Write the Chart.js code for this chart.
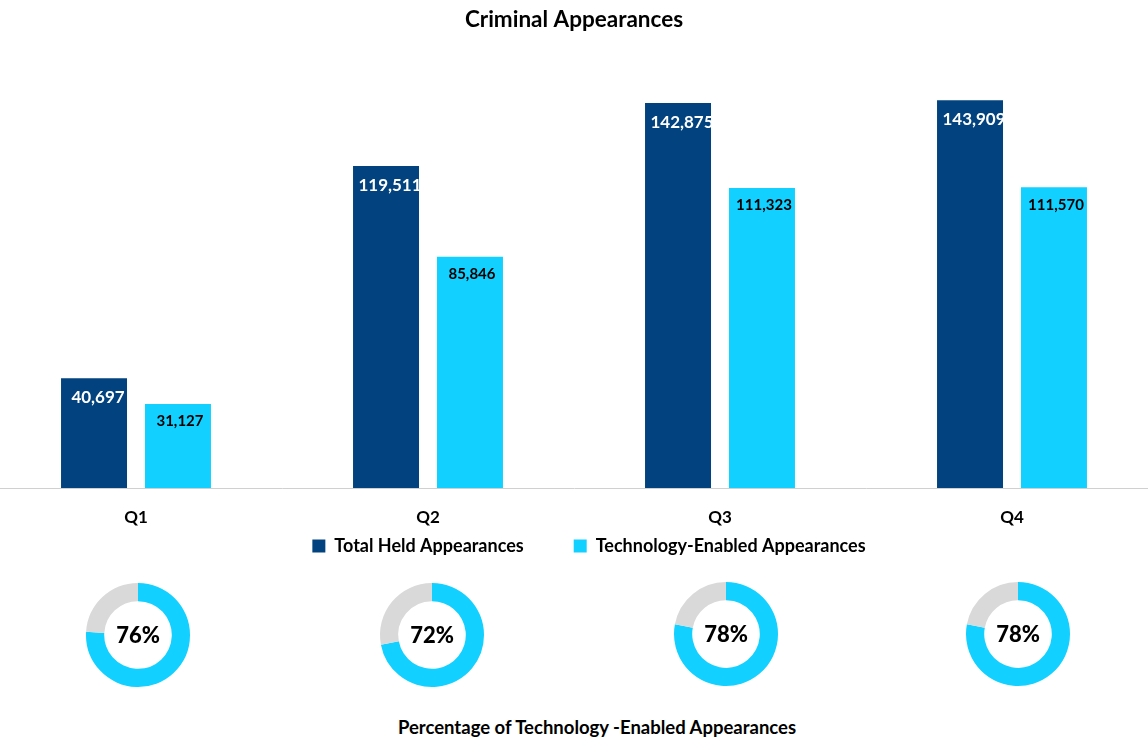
<!DOCTYPE html>
<html>
<head>
<meta charset="utf-8">
<script src="https://cdn.jsdelivr.net/npm/chart.js@4.4.1/dist/chart.umd.min.js"></script>
<style>
  html, body { margin: 0; padding: 0; background: #fff; overflow: hidden; }
  body { width: 1148px; height: 739px; position: relative; font-family: Lato, "Open Sans", sans-serif; }
  #barWrap { position: absolute; left: -10px; top: 0; width: 1168px; height: 604px; }
  .ring { position: absolute; width: 120px; height: 120px; }
  #caption { position: absolute; left: 0; width: 1194px; top: 716px; text-align: center;
             font: bold 18.5px Lato, sans-serif; color: #000; }
</style>
</head>
<body>
<div id="barWrap"><canvas id="bars"></canvas></div>
<div class="ring" id="ringWrap0"><canvas id="ring0"></canvas></div>
<div class="ring" id="ringWrap1"><canvas id="ring1"></canvas></div>
<div class="ring" id="ringWrap2"><canvas id="ring2"></canvas></div>
<div class="ring" id="ringWrap3"><canvas id="ring3"></canvas></div>
<div id="caption">Percentage of Technology -Enabled Appearances</div>

<script>
const quarters = ['Q1', 'Q2', 'Q3', 'Q4'];
const totalHeld = [40697, 119511, 142875, 143909];
const techEnabled = [31127, 85846, 111323, 111570];
const techPercent = [76, 72, 78, 78];

const NAVY = '#02427f';
const CYAN = '#12d0ff';
const GREY = '#d9d9d9';
const FONT = 'Lato, "Open Sans", sans-serif';

// value labels sit inside the top of each bar; the white ones are cut off at the bar edge
const barValueLabels = {
    id: 'barValueLabels',
    afterDatasetsDraw(chart) {
        const ctx = chart.ctx;
        chart.data.datasets.forEach(function(ds, di) {
            const meta = chart.getDatasetMeta(di);
            meta.data.forEach(function(bar, i) {
                const text = ds.data[i].toLocaleString('en-US');
                const left = bar.x - bar.width / 2;
                ctx.save();
                ctx.beginPath();
                ctx.rect(left, bar.y, bar.width, bar.base - bar.y);
                ctx.clip();
                ctx.textAlign = 'center';
                ctx.textBaseline = 'middle';
                if (di === 0) {
                    ctx.fillStyle = '#ffffff';
                    ctx.font = 'bold 17px ' + FONT;
                    ctx.fillText(text, bar.x + 4, bar.y + 19.5);
                } else {
                    ctx.fillStyle = '#000000';
                    ctx.font = 'bold 15px ' + FONT;
                    ctx.fillText(text, bar.x + 2, bar.y + 17.5);
                }
                ctx.restore();
            });
        });
    }
};

// the wide label padding gives the gap between legend items but also pushes
// the row down, so pull the legend back up closer to the quarter labels
const legendNudge = {
    id: 'legendNudge',
    afterLayout(chart) {
        const lg = chart.legend;
        if (!lg) return;
        lg.top -= 39;
        lg.bottom -= 39;
        lg.left += 15;
        lg.right += 15;
    }
};

new Chart(document.getElementById('bars'), {
    type: 'bar',
    data: {
        labels: quarters,
        datasets: [{
            label: 'Total Held Appearances',
            data: totalHeld,
            backgroundColor: NAVY,
            barPercentage: 0.786,
            categoryPercentage: 0.575
        }, {
            label: 'Technology-Enabled Appearances',
            data: techEnabled,
            backgroundColor: CYAN,
            barPercentage: 0.786,
            categoryPercentage: 0.575
        }]
    },
    options: {
        responsive: true,
        maintainAspectRatio: false,
        animation: false,
        layout: { padding: 0 },
        scales: {
            x: {
                grid: { display: false, drawTicks: false },
                border: { display: true, color: '#d0d0d0', width: 1 },
                ticks: { color: '#000', padding: 19, font: { family: FONT, size: 17, weight: 'bold' } },
                afterFit: function(scale) { scale.height = 38; }
            },
            y: {
                display: false,
                min: 0,
                max: 160000
            }
        },
        plugins: {
            title: {
                display: true,
                text: 'Criminal Appearances',
                color: '#000',
                font: { family: FONT, size: 22.5, weight: 'bold' },
                padding: { top: 6.5, bottom: 23.3 }
            },
            legend: {
                position: 'bottom',
                labels: {
                    boxWidth: 13,
                    boxHeight: 13,
                    color: '#000',
                    padding: 50,
                    font: { family: FONT, size: 18, weight: 'bold' }
                }
            },
            tooltip: { enabled: false }
        }
    },
    plugins: [barValueLabels, legendNudge]
});

// percentage written in the hole of each ring
const ringCenterText = {
    id: 'ringCenterText',
    afterDraw(chart) {
        const ctx = chart.ctx;
        const area = chart.chartArea;
        ctx.save();
        ctx.fillStyle = '#000';
        ctx.font = '900 22px ' + FONT;
        ctx.textAlign = 'center';
        ctx.textBaseline = 'middle';
        ctx.fillText(chart.data.datasets[0].data[0] + '%', (area.left + area.right) / 2, (area.top + area.bottom) / 2 + 1);
        ctx.restore();
    }
};

const ringCenters = [[138, 635], [432, 635], [726, 634], [1018, 634]];

techPercent.forEach(function(pct, i) {
    const wrap = document.getElementById('ringWrap' + i);
    wrap.style.left = (ringCenters[i][0] - 60) + 'px';
    wrap.style.top = (ringCenters[i][1] - 60) + 'px';
    new Chart(document.getElementById('ring' + i), {
        type: 'doughnut',
        data: {
            labels: ['Technology-Enabled', 'Other'],
            datasets: [{
                data: [pct, 100 - pct],
                backgroundColor: [CYAN, GREY],
                borderWidth: 0
            }]
        },
        options: {
            responsive: true,
            maintainAspectRatio: false,
            animation: false,
            radius: 52,
            cutout: 39,
            plugins: { legend: { display: false }, tooltip: { enabled: false } }
        },
        plugins: [ringCenterText]
    });
});
</script>
</body>
</html>
